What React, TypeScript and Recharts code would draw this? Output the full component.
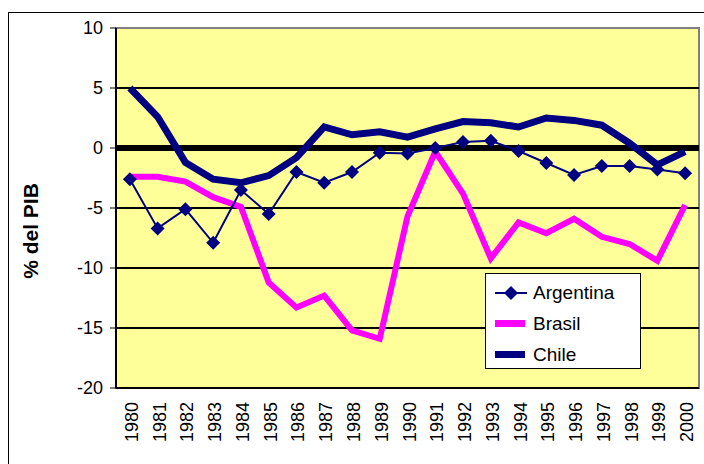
import { LineChart, Line, XAxis, YAxis, ReferenceLine, ReferenceArea, Legend } from "recharts";

const years = [
  "1980", "1981", "1982", "1983", "1984", "1985", "1986", "1987", "1988", "1989", "1990",
  "1991", "1992", "1993", "1994", "1995", "1996", "1997", "1998", "1999", "2000",
];
const argentina = [-2.6, -6.7, -5.1, -7.9, -3.5, -5.5, -2.0, -2.9, -2.0, -0.4, -0.45, 0.0, 0.5, 0.6, -0.25, -1.25, -2.25, -1.5, -1.5, -1.8, -2.1];
const brasil = [-2.4, -2.4, -2.8, -4.1, -4.9, -11.2, -13.3, -12.3, -15.2, -15.9, -5.7, -0.3, -3.8, -9.2, -6.2, -7.1, -5.9, -7.4, -8.0, -9.4, -4.75];
const chile = [5.0, 2.6, -1.2, -2.6, -2.9, -2.3, -0.8, 1.75, 1.1, 1.35, 0.9, 1.6, 2.2, 2.1, 1.75, 2.5, 2.3, 1.9, 0.4, -1.4, -0.3];
const yTicks = [10, 5, 0, -5, -10, -15, -20];
const gridLines = [5, -5, -10, -15];

const NAVY = "#000080";
const PINK = "#FF00FF";
const FONT = "'Liberation Sans', Arial, sans-serif";

const data = years.map((year, i) => ({
  year,
  Argentina: argentina[i],
  Brasil: brasil[i],
  Chile: chile[i],
}));

const Diamond = (props: any) => {
  const { cx, cy } = props;
  if (cx == null || cy == null) return null;
  return <path d={`M${cx},${cy - 7} L${cx + 7},${cy} L${cx},${cy + 7} L${cx - 7},${cy} Z`} fill={NAVY} />;
};

const YearTick = (props: any) => {
  const { x, y, payload } = props;
  return (
    <text
      transform={`translate(${x + 2},${y + 6}) rotate(-90)`}
      textAnchor="end"
      dominantBaseline="central"
      fontSize={18}
      fill="#000"
      fontFamily={FONT}
    >
      {payload.value}
    </text>
  );
};

const YLabel = () => (
  <text
    x={30}
    y={231}
    transform="rotate(-90 30 231)"
    textAnchor="middle"
    dominantBaseline="central"
    fontSize={21}
    fontWeight="bold"
    fill="#000"
    fontFamily={FONT}
  >
    % del PIB
  </text>
);

const legendItems = [
  { name: "Argentina", kind: "marker" },
  { name: "Brasil", kind: "thick", color: PINK },
  { name: "Chile", kind: "thick", color: NAVY },
];

const LegendBox = () => (
  <div
    style={{
      width: 154,
      height: 94,
      border: "1px solid #000",
      background: "#fff",
      fontFamily: FONT,
      fontSize: 19,
      color: "#000",
      boxSizing: "content-box",
    }}
  >
    {legendItems.map((item, i) => (
      <div key={item.name} style={{ display: "flex", alignItems: "center", height: 31, marginTop: i === 0 ? 3 : 0 }}>
        <svg width={32} height={20} style={{ marginLeft: 9, marginRight: 6 }}>
          {item.kind === "marker" ? (
            <>
              <line x1={0} y1={10} x2={32} y2={10} stroke={NAVY} strokeWidth={2} />
              <path d="M16,3 L23,10 L16,17 L9,10 Z" fill={NAVY} />
            </>
          ) : (
            <rect x={0} y={6} width={30} height={7} fill={item.color} />
          )}
        </svg>
        <span>{item.name}</span>
      </div>
    ))}
  </div>
);

export default function App() {
  return (
    <div style={{ position: "absolute", left: 0, top: 0, width: 704, height: 464, overflow: "hidden", background: "#fff" }}>
      <div
        style={{
          position: "absolute",
          left: 8,
          top: 12,
          width: 720,
          height: 470,
          border: "1px solid #000",
        }}
      />
      <div style={{ position: "absolute", left: 0, top: 0 }}>
        <LineChart
          width={704}
          height={464}
          data={data}
          margin={{ top: 28, right: 5, bottom: 0, left: 0 }}
          style={{ fontFamily: FONT }}
        >
          <ReferenceArea y1={-20} y2={10} fill="#FFFF99" fillOpacity={1} stroke="#808080" strokeWidth={2} />
          {gridLines.map((v) => (
            <ReferenceLine key={v} y={v} stroke="#000" strokeWidth={2} />
          ))}
          <ReferenceLine y={0} stroke="#000" strokeWidth={6} />
          <XAxis
            dataKey="year"
            scale="band"
            interval={0}
            tickLine={false}
            axisLine={{ stroke: "#000", strokeWidth: 2 }}
            height={76}
            tick={<YearTick />}
          />
          <YAxis
            type="number"
            domain={[-20, 10]}
            ticks={yTicks}
            interval={0}
            width={116}
            axisLine={{ stroke: "#000", strokeWidth: 2 }}
            tickLine={{ stroke: "#000" }}
            tickSize={6}
            tickMargin={7}
            tick={{ fontSize: 18, fill: "#000", fontFamily: FONT }}
            label={<YLabel />}
          />
          <Legend
            layout="horizontal"
            verticalAlign="middle"
            align="center"
            wrapperStyle={{ position: "absolute", left: 485, top: 273, width: "auto", height: "auto" }}
            content={<LegendBox />}
          />
          <Line dataKey="Brasil" stroke={PINK} strokeWidth={6} dot={false} isAnimationActive={false} strokeLinejoin="miter" />
          <Line dataKey="Chile" stroke={NAVY} strokeWidth={7} dot={false} isAnimationActive={false} strokeLinejoin="miter" />
          <Line dataKey="Argentina" stroke={NAVY} strokeWidth={2} dot={<Diamond />} isAnimationActive={false} />
        </LineChart>
      </div>
    </div>
  );
}
